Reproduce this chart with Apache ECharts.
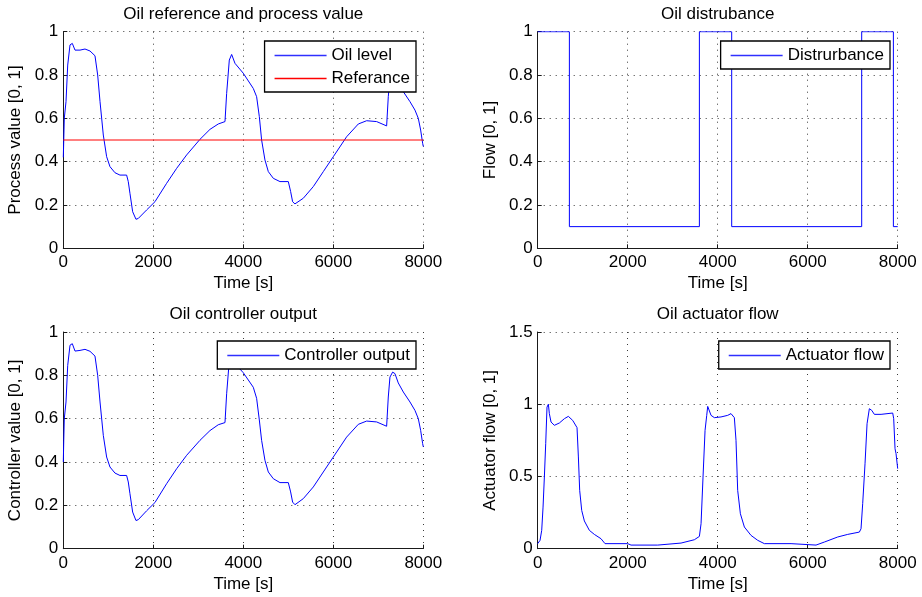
<!DOCTYPE html>
<html>
<head>
<meta charset="utf-8">
<script src="https://cdn.jsdelivr.net/npm/echarts@6/dist/echarts.min.js"></script>
<style>html,body{margin:0;padding:0;background:#fff;}#c{width:922px;height:597px;}</style>
</head>
<body>
<div id="c"></div>
<script>
// ---- Data ----
var xTicks = [0, 2000, 4000, 6000, 8000];

var levelTime = [0, 10, 22, 60, 98, 149, 200, 260, 371, 482, 593, 704, 764, 816, 889, 963, 1037, 1148, 1259, 1407, 1444, 1481, 1541, 1615, 1667, 1852, 2037, 2296, 2519, 2741, 3037, 3259, 3444, 3593, 3630, 3689, 3741, 3815, 4000, 4222, 4296, 4356, 4407, 4481, 4556, 4667, 4815, 5000, 5052, 5096, 5148, 5333, 5556, 5778, 6000, 6296, 6556, 6741, 6963, 7185, 7222, 7259, 7319, 7370, 7444, 7556, 7704, 7815, 7889, 7941, 7985, 8000];
var oilLevel = [0.42, 0.50, 0.60, 0.677, 0.846, 0.939, 0.946, 0.915, 0.915, 0.92, 0.911, 0.889, 0.80, 0.677, 0.523, 0.423, 0.377, 0.349, 0.338, 0.338, 0.308, 0.254, 0.169, 0.134, 0.138, 0.177, 0.215, 0.30, 0.369, 0.431, 0.503, 0.549, 0.574, 0.585, 0.715, 0.869, 0.895, 0.854, 0.808, 0.738, 0.70, 0.608, 0.50, 0.408, 0.354, 0.323, 0.308, 0.308, 0.262, 0.215, 0.205, 0.231, 0.285, 0.354, 0.423, 0.515, 0.574, 0.589, 0.585, 0.565, 0.70, 0.792, 0.815, 0.808, 0.765, 0.723, 0.677, 0.638, 0.60, 0.546, 0.485, 0.47];
var referenceTime = [0, 8000];
var referenceValue = [0.5, 0.5];

var controllerOutput = [0.40, 0.50, 0.60, 0.677, 0.846, 0.939, 0.946, 0.912, 0.915, 0.92, 0.911, 0.889, 0.80, 0.677, 0.523, 0.423, 0.377, 0.349, 0.338, 0.338, 0.308, 0.254, 0.169, 0.13, 0.134, 0.175, 0.213, 0.30, 0.369, 0.431, 0.500, 0.545, 0.572, 0.582, 0.715, 0.869, 0.895, 0.854, 0.812, 0.745, 0.694, 0.594, 0.50, 0.408, 0.354, 0.323, 0.305, 0.305, 0.262, 0.215, 0.203, 0.231, 0.285, 0.354, 0.423, 0.515, 0.574, 0.589, 0.585, 0.565, 0.70, 0.792, 0.815, 0.808, 0.765, 0.723, 0.677, 0.638, 0.60, 0.546, 0.485, 0.47];

var disturbanceTime = [0, 704, 704, 3593, 3593, 4311, 4311, 7200, 7200, 7904, 7904, 8000];
var disturbance = [1, 1, 0.1, 0.1, 1, 1, 0.1, 0.1, 1, 1, 0.1, 0.1];

var actuatorTime = [0, 52, 89, 119, 148, 178, 207, 237, 259, 296, 370, 481, 593, 681, 778, 874, 904, 933, 978, 1037, 1148, 1259, 1407, 1496, 2000, 2074, 2667, 2704, 3185, 3481, 3593, 3630, 3674, 3719, 3756, 3778, 3815, 3852, 3926, 4074, 4222, 4296, 4370, 4407, 4444, 4504, 4593, 4741, 4889, 5037, 5630, 5667, 6185, 6370, 6667, 6889, 7148, 7185, 7222, 7274, 7319, 7370, 7422, 7481, 7630, 7889, 7911, 7941, 7963, 8000];
var actuatorFlow = [0.035, 0.058, 0.127, 0.288, 0.496, 0.727, 0.98, 1.0, 0.935, 0.877, 0.854, 0.870, 0.90, 0.916, 0.888, 0.838, 0.635, 0.404, 0.265, 0.192, 0.127, 0.099, 0.069, 0.035, 0.035, 0.025, 0.025, 0.035, 0.039, 0.062, 0.085, 0.173, 0.496, 0.819, 0.923, 0.985, 0.985, 0.923, 0.907, 0.912, 0.923, 0.935, 0.907, 0.75, 0.404, 0.242, 0.15, 0.092, 0.058, 0.035, 0.035, 0.025, 0.025, 0.046, 0.081, 0.099, 0.115, 0.138, 0.312, 0.588, 0.865, 0.969, 0.958, 0.93, 0.93, 0.939, 0.90, 0.692, 0.658, 0.554];

function zip(xs, ys) { return xs.map(function (x, i) { return [x, ys[i]]; }); }

var FONT = 'Liberation Sans, Arial, Helvetica, sans-serif';
var FS = 17;
var BLUE = '#0000ff', RED = '#ff0000';
var LEG_BLUE = '#3030ff';
var grids = [
  {left: 63.3, top: 31.7, width: 360, height: 216.6},
  {left: 537.7, top: 31.7, width: 360, height: 216.6},
  {left: 63.3, top: 332, width: 360, height: 216.7},
  {left: 537.7, top: 332, width: 360, height: 216.7}
];
var titles = ['Oil reference and process value', 'Oil distrubance', 'Oil controller output', 'Oil actuator flow'];
var yNames = ['Process value [0, 1]', 'Flow [0, 1]', 'Controller value [0, 1]', 'Actuator flow [0, 1]'];
var yMax = [1, 1, 1, 1.5];
var yInt = [0.2, 0.2, 0.2, 0.5];

var gridLine = {show: true, lineStyle: {color: '#3a3a3a', type: [1, 5], width: 1}};
function plain(v) { return String(v); }
function li(name, color) { return {name: name, itemStyle: {color: color, borderWidth: 0}}; }

var option = {
  backgroundColor: '#fff',
  animation: false,
  textStyle: {fontFamily: FONT},
  title: titles.map(function (t, i) {
    return {
      text: t, left: grids[i].left + grids[i].width / 2, textAlign: 'center',
      top: grids[i].top - 26, padding: 0,
      textStyle: {fontFamily: FONT, fontSize: FS, fontWeight: 'normal', color: '#000'}
    };
  }),
  grid: grids,
  xAxis: grids.map(function (g, i) {
    return {
      type: 'value', gridIndex: i, min: 0, max: 8000, interval: 2000,
      name: 'Time [s]', nameLocation: 'middle', nameGap: 27,
      nameTextStyle: {fontFamily: FONT, fontSize: FS, color: '#000'},
      axisLine: {show: true, onZero: false, lineStyle: {color: '#1a1a1a', width: 1}},
      axisTick: {show: true, inside: true, length: 4, lineStyle: {color: '#1a1a1a'}},
      axisLabel: {fontFamily: FONT, fontSize: FS, color: '#000', margin: 6, formatter: plain},
      splitLine: gridLine
    };
  }),
  yAxis: grids.map(function (g, i) {
    return {
      type: 'value', gridIndex: i, min: 0, max: yMax[i], interval: yInt[i],
      name: yNames[i], nameLocation: 'middle', nameGap: 39,
      nameTextStyle: {fontFamily: FONT, fontSize: FS, color: '#000'},
      axisLine: {show: true, onZero: false, lineStyle: {color: '#1a1a1a', width: 1}},
      axisTick: {show: true, inside: true, length: 4, lineStyle: {color: '#1a1a1a'}},
      axisLabel: {fontFamily: FONT, fontSize: FS, color: '#000', margin: 5, formatter: plain},
      splitLine: gridLine
    };
  }),
  legend: [
    {data: [li('Oil level', LEG_BLUE), li('Referance', RED)], right: 506, top: 41},
    {data: [li('Distrurbance', LEG_BLUE)], right: 32, top: 41},
    {data: [li('Controller output', LEG_BLUE)], right: 506, top: 341},
    {data: [li('Actuator flow', LEG_BLUE)], right: 32, top: 341}
  ].map(function (l) {
    return Object.assign({
      orient: 'vertical', icon: 'rect', itemWidth: 52, itemHeight: 1.6, itemGap: 6,
      padding: [6, 6, 5, 10], borderColor: '#000', borderWidth: 1.3, backgroundColor: '#fff',
      borderRadius: 0,
      textStyle: {fontFamily: FONT, fontSize: FS, color: '#000', lineHeight: 17}
    }, l);
  }),
  series: [
    {name: 'Oil level', type: 'line', xAxisIndex: 0, yAxisIndex: 0, symbol: 'none', data: zip(levelTime, oilLevel), lineStyle: {color: BLUE, width: 1}, itemStyle: {color: BLUE}},
    {name: 'Referance', type: 'line', xAxisIndex: 0, yAxisIndex: 0, symbol: 'none', data: zip(referenceTime, referenceValue), lineStyle: {color: RED, width: 1}, itemStyle: {color: RED}},
    {name: 'Distrurbance', type: 'line', xAxisIndex: 1, yAxisIndex: 1, symbol: 'none', data: zip(disturbanceTime, disturbance), lineStyle: {color: BLUE, width: 1}, itemStyle: {color: BLUE}},
    {name: 'Controller output', type: 'line', xAxisIndex: 2, yAxisIndex: 2, symbol: 'none', data: zip(levelTime, controllerOutput), lineStyle: {color: BLUE, width: 1}, itemStyle: {color: BLUE}},
    {name: 'Actuator flow', type: 'line', xAxisIndex: 3, yAxisIndex: 3, symbol: 'none', data: zip(actuatorTime, actuatorFlow), lineStyle: {color: BLUE, width: 1}, itemStyle: {color: BLUE}}
  ]
};
var chart = echarts.init(document.getElementById('c'));
chart.setOption(option);
</script>
</body>
</html>
